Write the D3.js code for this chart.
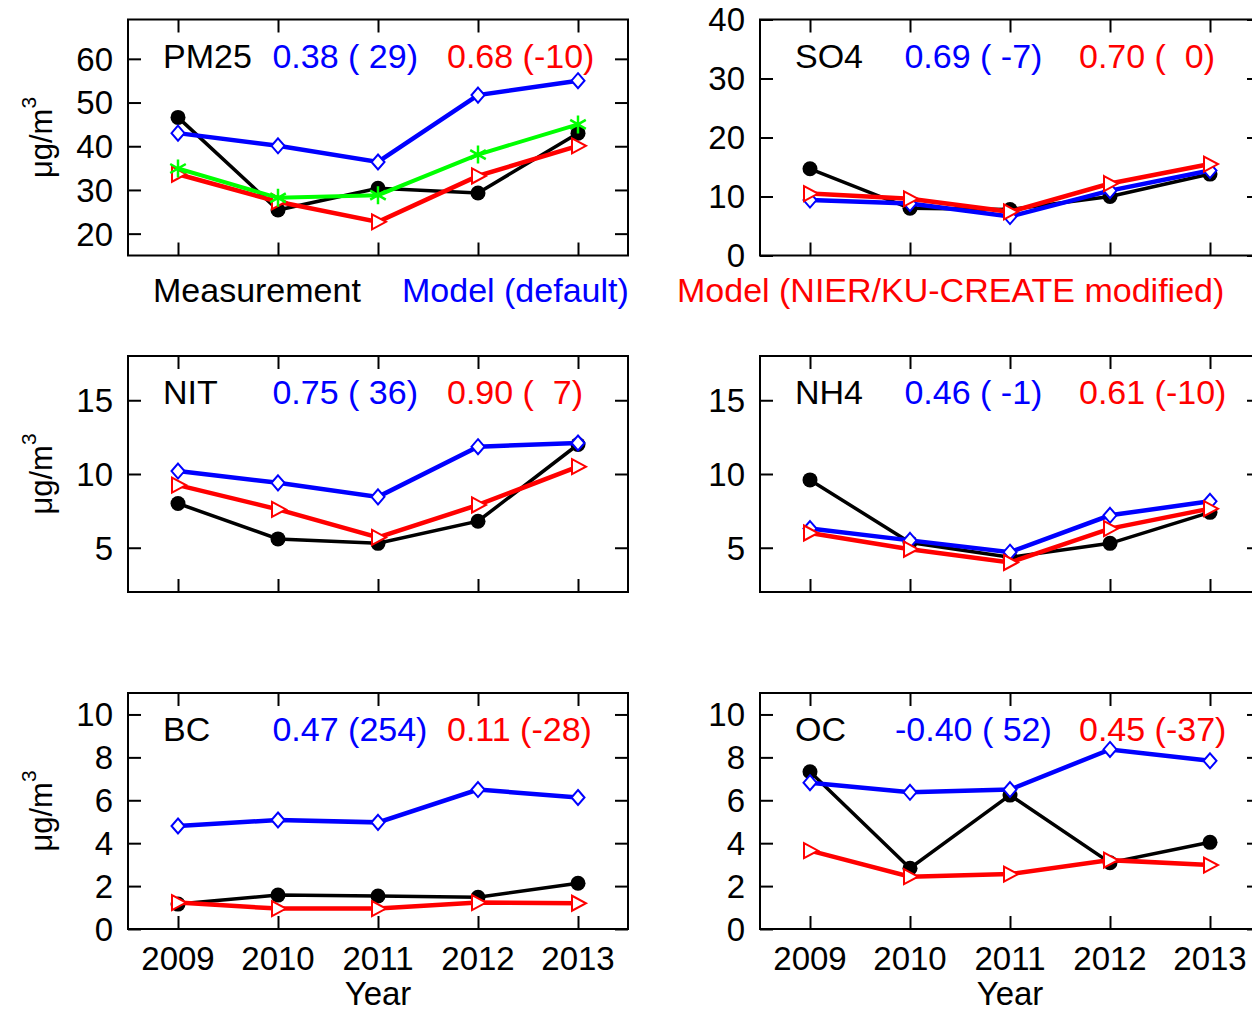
<!DOCTYPE html>
<html>
<head>
<meta charset="utf-8">
<script src="https://cdn.jsdelivr.net/npm/d3@7"></script>
<style>
  body { margin: 0; background: #fff; }
  svg text { font-family: "Liberation Sans", Arial, Helvetica, sans-serif; }
</style>
</head>
<body>
<svg id="chart" width="1252" height="1010"></svg>
<script>
// years on the x axis
const years = [2009, 2010, 2011, 2012, 2013];

// species names and the two stat strings (R and bias %) for each panel
const species = ["PM25", "SO4", "NIT", "NH4", "BC", "OC"];
const statsDefault = [" 0.38 ( 29)", " 0.69 ( -7)", " 0.75 ( 36)", " 0.46 ( -1)", " 0.47 (254)", "-0.40 ( 52)"];
const statsModified = ["0.68 (-10)", "0.70 (  0)", "0.90 (  7)", "0.61 (-10)", "0.11 (-28)", "0.45 (-37)"];

// y ranges and tick values
const yDomains = [[15, 69], [0, 40], [2, 18], [2, 18], [0, 11], [0, 11]];
const yTicks = [[20, 30, 40, 50, 60], [0, 10, 20, 30, 40], [5, 10, 15], [5, 10, 15], [0, 2, 4, 6, 8, 10], [0, 2, 4, 6, 8, 10]];

// measurement (black)
const pm25Obs = [46.6, 25.4, 30.4, 29.3, 43.0];
const so4Obs = [14.7, 8.0, 7.8, 10.0, 13.8];
const nitObs = [8.0, 5.6, 5.3, 6.8, 12.0];
const nh4Obs = [9.6, 5.35, 4.35, 5.3, 7.4];
const bcObs = [1.16, 1.58, 1.54, 1.48, 2.13];
const ocObs = [7.33, 2.83, 6.24, 3.09, 4.04];

// model default (blue)
const pm25Def = [43.0, 40.1, 36.4, 51.7, 55.0];
const so4Def = [9.4, 8.8, 6.6, 11.0, 14.4];
const nitDef = [10.2, 9.4, 8.45, 11.85, 12.1];
const nh4Def = [6.3, 5.5, 4.7, 7.2, 8.15];
const bcDef = [4.8, 5.08, 4.97, 6.5, 6.13];
const ocDef = [6.82, 6.37, 6.5, 8.37, 7.84];

// model NIER/KU-CREATE modified (red)
const pm25Mod = [33.6, 27.3, 22.7, 33.2, 40.1];
const so4Mod = [10.5, 9.6, 7.4, 12.2, 15.5];
const nitMod = [9.25, 7.6, 5.7, 7.9, 10.5];
const nh4Mod = [6.0, 4.9, 4.0, 6.3, 7.65];
const bcMod = [1.23, 0.95, 0.95, 1.23, 1.2];
const ocMod = [3.65, 2.44, 2.56, 3.21, 2.98];

// extra green series, PM25 panel only
const pm25Green = [34.9, 28.2, 28.8, 38.1, 45.0];

const obsAll = [pm25Obs, so4Obs, nitObs, nh4Obs, bcObs, ocObs];
const defAll = [pm25Def, so4Def, nitDef, nh4Def, bcDef, ocDef];
const modAll = [pm25Mod, so4Mod, nitMod, nh4Mod, bcMod, ocMod];

const svg = d3.select("#chart");
const pw = 500, ph = 236;
const lefts = [128, 760];
const tops = [19.5, 356, 693];
const tickFont = 33;
const textFont = 34;

const diamond = "M0,-7.5L6.5,0L0,7.5L-6.5,0Z";
const triangle = "M-6,-7.5L8,0L-6,7.5Z";
const asterisk = "M0,-9V9M-7.8,-4.5L7.8,4.5M-7.8,4.5L7.8,-4.5";

species.forEach((name, i) => {
    const col = i % 2, row = Math.floor(i / 2);
    const g = svg.append("g")
        .attr("transform", "translate(" + lefts[col] + "," + tops[row] + ")");

    const x = d3.scaleLinear().domain([2008.5, 2013.5]).range([0, pw]);
    const y = d3.scaleLinear().domain(yDomains[i]).range([ph, 0]);

    // inward ticks on all four sides
    const tl = 13;
    g.append("g").call(d3.axisLeft(y).tickValues(yTicks[i]).tickSize(-tl).tickFormat(""));
    g.append("g").attr("transform", "translate(" + pw + ",0)")
        .call(d3.axisRight(y).tickValues(yTicks[i]).tickSize(-tl).tickFormat(""));
    g.append("g").attr("transform", "translate(0," + ph + ")")
        .call(d3.axisBottom(x).tickValues(years).tickSize(-tl).tickFormat(""));
    g.append("g").call(d3.axisTop(x).tickValues(years).tickSize(-tl).tickFormat(""));
    g.selectAll(".domain").remove();
    g.selectAll(".tick line").attr("stroke", "#000").attr("stroke-width", 2);

    g.append("rect")
        .attr("width", pw).attr("height", ph)
        .attr("fill", "none").attr("stroke", "#000").attr("stroke-width", 2);

    // y tick labels
    g.selectAll(".ylab").data(yTicks[i]).enter().append("text")
        .attr("x", -15).attr("y", d => y(d))
        .attr("dy", "0.36em")
        .attr("text-anchor", "end")
        .attr("font-size", tickFont)
        .text(d => d);

    // x tick labels only on bottom row
    if (row === 2) {
        g.selectAll(".xlab").data(years).enter().append("text")
            .attr("x", d => x(d)).attr("y", ph + 41)
            .attr("text-anchor", "middle")
            .attr("font-size", tickFont)
            .text(d => d);
        g.append("text")
            .attr("x", pw / 2).attr("y", ph + 76)
            .attr("text-anchor", "middle")
            .attr("font-size", tickFont)
            .text("Year");
    }

    // y axis title on left column
    if (col === 0) {
        const t = g.append("text")
            .attr("transform", "translate(-76," + (ph / 2) + ") rotate(-90)")
            .attr("text-anchor", "middle")
            .attr("font-size", 31);
        t.append("tspan").text("μg/m");
        t.append("tspan").attr("font-size", 21).attr("dy", -16).text("3");
    }

    // species name and stats
    g.append("text").attr("x", 35).attr("y", 48).attr("font-size", textFont).text(name);
    g.append("text").attr("x", 135).attr("y", 48).attr("font-size", textFont)
        .attr("fill", "#0000ff").style("white-space", "pre").text(statsDefault[i]);
    g.append("text").attr("x", 319).attr("y", 48).attr("font-size", textFont)
        .attr("fill", "#ff0000").style("white-space", "pre").text(statsModified[i]);

    const line = d3.line().x((d, k) => x(years[k])).y(d => y(d));

    // measurement
    g.append("path").datum(obsAll[i]).attr("d", line)
        .attr("fill", "none").attr("stroke", "#000").attr("stroke-width", 3.5);
    g.selectAll(".obs").data(obsAll[i]).enter().append("circle")
        .attr("cx", (d, k) => x(years[k])).attr("cy", d => y(d))
        .attr("r", 7.5).attr("fill", "#000");

    // model default
    g.append("path").datum(defAll[i]).attr("d", line)
        .attr("fill", "none").attr("stroke", "#0000ff").attr("stroke-width", 4.5);
    g.selectAll(".def").data(defAll[i]).enter().append("path")
        .attr("transform", (d, k) => "translate(" + x(years[k]) + "," + y(d) + ")")
        .attr("d", diamond)
        .attr("fill", "#fff").attr("stroke", "#0000ff").attr("stroke-width", 2);

    // model modified
    g.append("path").datum(modAll[i]).attr("d", line)
        .attr("fill", "none").attr("stroke", "#ff0000").attr("stroke-width", 4.5);
    g.selectAll(".mod").data(modAll[i]).enter().append("path")
        .attr("transform", (d, k) => "translate(" + x(years[k]) + "," + y(d) + ")")
        .attr("d", triangle)
        .attr("fill", "#fff").attr("stroke", "#ff0000").attr("stroke-width", 2);

    if (name === "PM25") {
        g.append("path").datum(pm25Green).attr("d", line)
            .attr("fill", "none").attr("stroke", "#00ff00").attr("stroke-width", 4);
        g.selectAll(".grn").data(pm25Green).enter().append("path")
            .attr("transform", (d, k) => "translate(" + x(years[k]) + "," + y(d) + ")")
            .attr("d", asterisk)
            .attr("fill", "none").attr("stroke", "#00ff00").attr("stroke-width", 2.5);
    }
});

// legend under the first row
const legendY = tops[0] + ph + 46;
svg.append("text").attr("x", 153).attr("y", legendY).attr("font-size", textFont)
    .attr("fill", "#000").text("Measurement");
svg.append("text").attr("x", 402).attr("y", legendY).attr("font-size", textFont)
    .attr("fill", "#0000ff").text("Model (default)");
svg.append("text").attr("x", 677).attr("y", legendY).attr("font-size", textFont)
    .attr("fill", "#ff0000").text("Model (NIER/KU-CREATE modified)");
</script>
</body>
</html>
